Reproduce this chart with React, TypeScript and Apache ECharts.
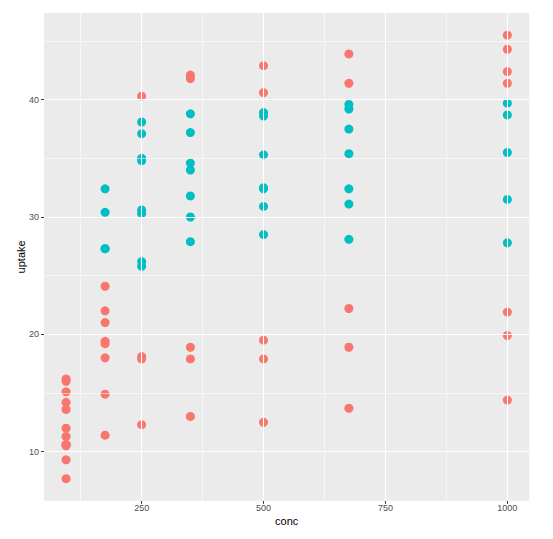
import React, { useEffect, useRef } from "react";
import * as echarts from "echarts";

// CO2 dataset: ambient CO2 concentration levels
const concLevels = [95, 175, 250, 350, 500, 675, 1000];
// uptake per plant, one value per concentration level
const Qn1 = [16.0, 30.4, 34.8, 37.2, 35.3, 39.2, 39.7];
const Qn2 = [13.6, 27.3, 37.1, 41.8, 40.6, 41.4, 44.3];
const Qn3 = [16.2, 32.4, 40.3, 42.1, 42.9, 43.9, 45.5];
const Qc1 = [14.2, 24.1, 30.3, 34.6, 32.5, 35.4, 38.7];
const Qc2 = [9.3, 27.3, 35.0, 38.8, 38.6, 37.5, 42.4];
const Qc3 = [15.1, 21.0, 38.1, 34.0, 38.9, 39.6, 41.4];
const Mn1 = [10.6, 19.2, 26.2, 30.0, 30.9, 32.4, 35.5];
const Mn2 = [12.0, 22.0, 30.6, 31.8, 32.4, 31.1, 31.5];
const Mn3 = [11.3, 19.4, 25.8, 27.9, 28.5, 28.1, 27.8];
const Mc1 = [10.5, 14.9, 18.1, 18.9, 19.5, 22.2, 21.9];
const Mc2 = [7.7, 11.4, 12.3, 13.0, 12.5, 13.7, 14.4];
const Mc3 = [10.6, 18.0, 17.9, 17.9, 17.9, 18.9, 19.9];
const plants = [Qn1, Qn2, Qn3, Qc1, Qc2, Qc3, Mn1, Mn2, Mn3, Mc1, Mc2, Mc3];

// colour groups: mid band (25..40) vs outside
const bandLow = 25;
const bandHigh = 40;

const xTicks = [250, 500, 750, 1000];
const xMinor = [125, 375, 625, 875];
const yTicks = [10, 20, 30, 40];
const yMinor = [15, 25, 35, 45];

const xMin = 49.75;
const xMax = 1045.25;
const yMin = 5.81;
const yMax = 47.39;

const FONT = "Liberation Sans, Arial, sans-serif";

export default function App() {
  const ref = useRef<HTMLDivElement>(null);
  useEffect(() => {
    if (!ref.current) return;
    const chart = echarts.init(ref.current, undefined, { renderer: "svg" });
    const all: number[][] = [];
    plants.forEach((p) => p.forEach((u, i) => all.push([concLevels[i], u])));
    const inBand = (d: number[]) => d[1] > bandLow && d[1] < bandHigh;
    const teal = all.filter(inBand);
    const red = all.filter((d) => !inBand(d));

    const gridLine = (w: number) => ({ color: "#FFFFFF", width: w, type: "solid" as const });
    const markData = [
      ...xMinor.map((v) => ({ xAxis: v, lineStyle: gridLine(0.55) })),
      ...yMinor.map((v) => ({ yAxis: v, lineStyle: gridLine(0.55) })),
      ...xTicks.map((v) => ({ xAxis: v, lineStyle: gridLine(1.1) })),
      ...yTicks.map((v) => ({ yAxis: v, lineStyle: gridLine(1.1) })),
    ];

    chart.setOption({
      animation: false,
      grid: {
        left: 44,
        top: 13,
        right: 23.6,
        bottom: 38.2,
        show: true,
        backgroundColor: "#EBEBEB",
        borderWidth: 0,
      },
      xAxis: {
        type: "value",
        min: xMin,
        max: xMax,
        name: "conc",
        nameLocation: "middle",
        nameGap: 15,
        nameMoveOverlap: false,
        nameTextStyle: { color: "#000000", fontSize: 11, fontFamily: FONT },
        axisLine: { show: false },
        splitLine: { show: false },
        axisTick: { show: true, customValues: xTicks, length: 3, lineStyle: { color: "#333333", width: 1 } },
        axisLabel: {
          customValues: xTicks,
          formatter: (v: number) => String(v),
          color: "#4D4D4D",
          fontSize: 9,
          margin: 3,
          fontFamily: FONT,
        },
      },
      yAxis: {
        type: "value",
        min: yMin,
        max: yMax,
        name: "uptake",
        nameLocation: "middle",
        nameGap: 18,
        nameMoveOverlap: false,
        nameRotate: 90,
        nameTextStyle: { color: "#000000", fontSize: 11, fontFamily: FONT },
        axisLine: { show: false },
        splitLine: { show: false },
        axisTick: { show: true, customValues: yTicks, length: 3, lineStyle: { color: "#333333", width: 1 } },
        axisLabel: {
          customValues: yTicks,
          formatter: (v: number) => String(v),
          color: "#4D4D4D",
          fontSize: 9,
          margin: 5,
          fontFamily: FONT,
        },
      },
      series: [
        {
          type: "scatter",
          data: [],
          silent: true,
          z: 1,
          markLine: {
            silent: true,
            symbol: "none",
            label: { show: false },
            animation: false,
            data: markData,
          },
        },
        {
          name: "outside",
          type: "scatter",
          data: red,
          symbolSize: 9,
          itemStyle: { color: "#F8766D", opacity: 1 },
          z: 3,
        },
        {
          name: "mid",
          type: "scatter",
          data: teal,
          symbolSize: 9,
          itemStyle: { color: "#00BFC4", opacity: 1 },
          z: 3,
        },
      ],
    });
    return () => chart.dispose();
  }, []);
  return (
    <div
      ref={ref}
      style={{ position: "absolute", left: 0, top: 0, width: 553, height: 539, background: "#FFFFFF" }}
    />
  );
}
